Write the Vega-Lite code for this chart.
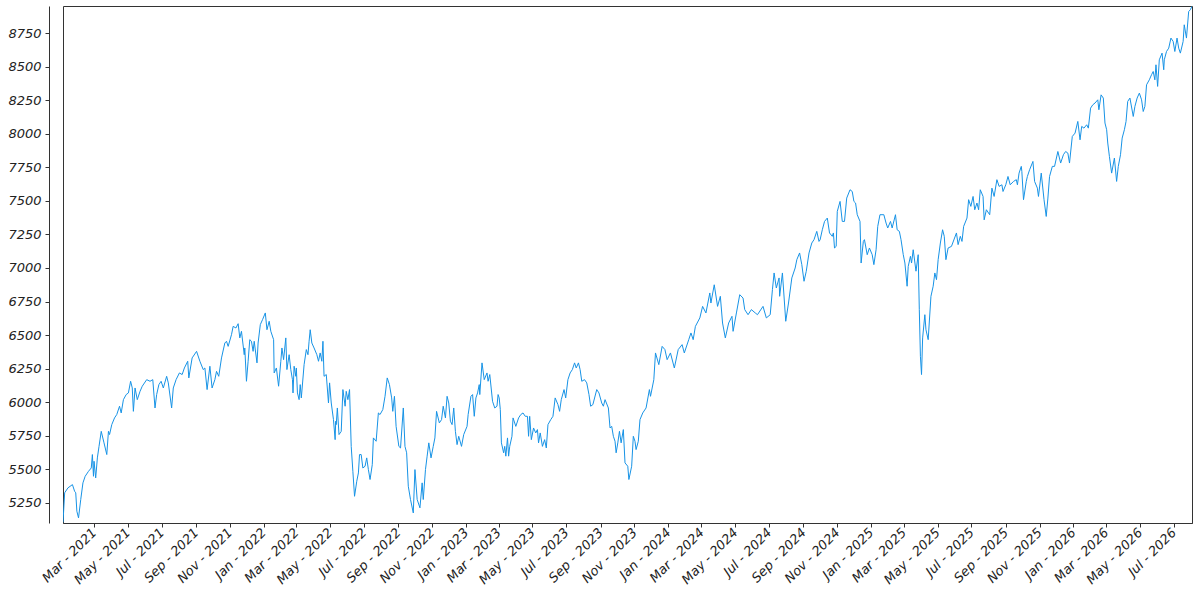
{
  "$schema": "https://vega.github.io/schema/vega-lite/v6.json",
  "autosize": "none",
  "width": 1129,
  "height": 517,
  "padding": {"left": 63, "top": 6, "right": 8, "bottom": 77},
  "background": "white",
  "view": {"stroke": "#333333", "strokeWidth": 1},
  "config": {
    "axis": {
      "labelFont": "DejaVu Sans",
      "labelFontStyle": "oblique",
      "labelFontSize": 13,
      "labelColor": "#222222",
      "domainColor": "#333333",
      "tickColor": "#333333",
      "tickSize": 4,
      "grid": false,
      "title": null
    }
  },
  "data": {
    "values": [
      {"date": "2021-01-04", "value": 5105}, {"date": "2021-01-07", "value": 5325}, {"date": "2021-01-13", "value": 5362},
      {"date": "2021-01-21", "value": 5386}, {"date": "2021-01-25", "value": 5336}, {"date": "2021-01-27", "value": 5325},
      {"date": "2021-01-29", "value": 5188}, {"date": "2021-02-01", "value": 5138}, {"date": "2021-02-05", "value": 5275},
      {"date": "2021-02-09", "value": 5399}, {"date": "2021-02-13", "value": 5448}, {"date": "2021-02-19", "value": 5485},
      {"date": "2021-02-24", "value": 5510}, {"date": "2021-02-26", "value": 5610}, {"date": "2021-02-28", "value": 5448},
      {"date": "2021-03-01", "value": 5560}, {"date": "2021-03-04", "value": 5436}, {"date": "2021-03-07", "value": 5585},
      {"date": "2021-03-10", "value": 5671}, {"date": "2021-03-14", "value": 5783}, {"date": "2021-03-19", "value": 5697},
      {"date": "2021-03-24", "value": 5610}, {"date": "2021-03-27", "value": 5783}, {"date": "2021-03-29", "value": 5759},
      {"date": "2021-04-02", "value": 5833}, {"date": "2021-04-07", "value": 5883}, {"date": "2021-04-11", "value": 5908},
      {"date": "2021-04-16", "value": 5970}, {"date": "2021-04-19", "value": 5920}, {"date": "2021-04-23", "value": 6019},
      {"date": "2021-04-28", "value": 6057}, {"date": "2021-05-02", "value": 6069}, {"date": "2021-05-06", "value": 6156},
      {"date": "2021-05-09", "value": 6106}, {"date": "2021-05-11", "value": 5932}, {"date": "2021-05-14", "value": 6106},
      {"date": "2021-05-18", "value": 6019}, {"date": "2021-05-23", "value": 6081}, {"date": "2021-05-27", "value": 6119},
      {"date": "2021-06-04", "value": 6168}, {"date": "2021-06-10", "value": 6156}, {"date": "2021-06-15", "value": 6168},
      {"date": "2021-06-19", "value": 5957}, {"date": "2021-06-22", "value": 6057}, {"date": "2021-06-26", "value": 6131},
      {"date": "2021-06-30", "value": 6156}, {"date": "2021-07-04", "value": 6106}, {"date": "2021-07-10", "value": 6193},
      {"date": "2021-07-13", "value": 6144}, {"date": "2021-07-19", "value": 5957}, {"date": "2021-07-22", "value": 6106},
      {"date": "2021-07-27", "value": 6168}, {"date": "2021-08-02", "value": 6218}, {"date": "2021-08-07", "value": 6206},
      {"date": "2021-08-11", "value": 6255}, {"date": "2021-08-17", "value": 6305}, {"date": "2021-08-19", "value": 6181},
      {"date": "2021-08-25", "value": 6330}, {"date": "2021-09-02", "value": 6379}, {"date": "2021-09-08", "value": 6305},
      {"date": "2021-09-14", "value": 6243}, {"date": "2021-09-17", "value": 6255}, {"date": "2021-09-21", "value": 6094},
      {"date": "2021-09-26", "value": 6268}, {"date": "2021-09-30", "value": 6106}, {"date": "2021-10-05", "value": 6168},
      {"date": "2021-10-08", "value": 6230}, {"date": "2021-10-12", "value": 6193}, {"date": "2021-10-17", "value": 6330},
      {"date": "2021-10-23", "value": 6441}, {"date": "2021-10-26", "value": 6454}, {"date": "2021-10-29", "value": 6416},
      {"date": "2021-11-04", "value": 6503}, {"date": "2021-11-07", "value": 6565}, {"date": "2021-11-12", "value": 6553},
      {"date": "2021-11-16", "value": 6585}, {"date": "2021-11-19", "value": 6479}, {"date": "2021-11-22", "value": 6528},
      {"date": "2021-11-27", "value": 6354}, {"date": "2021-11-28", "value": 6404}, {"date": "2021-12-01", "value": 6156},
      {"date": "2021-12-04", "value": 6305}, {"date": "2021-12-07", "value": 6466}, {"date": "2021-12-10", "value": 6454},
      {"date": "2021-12-13", "value": 6379}, {"date": "2021-12-15", "value": 6454}, {"date": "2021-12-20", "value": 6293},
      {"date": "2021-12-22", "value": 6441}, {"date": "2021-12-26", "value": 6578}, {"date": "2021-12-30", "value": 6615},
      {"date": "2022-01-04", "value": 6665}, {"date": "2022-01-07", "value": 6540}, {"date": "2022-01-11", "value": 6603},
      {"date": "2022-01-14", "value": 6528}, {"date": "2022-01-19", "value": 6466}, {"date": "2022-01-20", "value": 6218},
      {"date": "2022-01-24", "value": 6255}, {"date": "2022-01-28", "value": 6119}, {"date": "2022-02-01", "value": 6305},
      {"date": "2022-02-03", "value": 6404}, {"date": "2022-02-06", "value": 6317}, {"date": "2022-02-10", "value": 6479},
      {"date": "2022-02-12", "value": 6243}, {"date": "2022-02-16", "value": 6354}, {"date": "2022-02-19", "value": 6243},
      {"date": "2022-02-22", "value": 6168}, {"date": "2022-02-23", "value": 6069}, {"date": "2022-02-25", "value": 6268},
      {"date": "2022-02-28", "value": 6193}, {"date": "2022-03-01", "value": 6255}, {"date": "2022-03-03", "value": 6069},
      {"date": "2022-03-06", "value": 6019}, {"date": "2022-03-08", "value": 6131}, {"date": "2022-03-10", "value": 6032},
      {"date": "2022-03-15", "value": 6280}, {"date": "2022-03-19", "value": 6392}, {"date": "2022-03-22", "value": 6354},
      {"date": "2022-03-24", "value": 6454}, {"date": "2022-03-26", "value": 6540}, {"date": "2022-03-29", "value": 6441},
      {"date": "2022-04-02", "value": 6404}, {"date": "2022-04-07", "value": 6354}, {"date": "2022-04-10", "value": 6305},
      {"date": "2022-04-13", "value": 6367}, {"date": "2022-04-16", "value": 6305}, {"date": "2022-04-18", "value": 6454},
      {"date": "2022-04-20", "value": 6193}, {"date": "2022-04-24", "value": 6206}, {"date": "2022-04-28", "value": 5994},
      {"date": "2022-04-30", "value": 6144}, {"date": "2022-05-03", "value": 5994}, {"date": "2022-05-07", "value": 5870},
      {"date": "2022-05-10", "value": 5721}, {"date": "2022-05-11", "value": 5858}, {"date": "2022-05-12", "value": 5833},
      {"date": "2022-05-14", "value": 5957}, {"date": "2022-05-17", "value": 5759}, {"date": "2022-05-21", "value": 5783},
      {"date": "2022-05-24", "value": 6094}, {"date": "2022-05-28", "value": 5970}, {"date": "2022-05-30", "value": 6081},
      {"date": "2022-06-02", "value": 6019}, {"date": "2022-06-05", "value": 6094}, {"date": "2022-06-08", "value": 5671},
      {"date": "2022-06-11", "value": 5485}, {"date": "2022-06-14", "value": 5299}, {"date": "2022-06-18", "value": 5411},
      {"date": "2022-06-21", "value": 5473}, {"date": "2022-06-23", "value": 5610}, {"date": "2022-06-26", "value": 5610},
      {"date": "2022-06-29", "value": 5510}, {"date": "2022-07-03", "value": 5523}, {"date": "2022-07-06", "value": 5585},
      {"date": "2022-07-09", "value": 5498}, {"date": "2022-07-12", "value": 5424}, {"date": "2022-07-16", "value": 5535},
      {"date": "2022-07-18", "value": 5734}, {"date": "2022-07-23", "value": 5709}, {"date": "2022-07-27", "value": 5920},
      {"date": "2022-07-30", "value": 5908}, {"date": "2022-08-04", "value": 5945}, {"date": "2022-08-08", "value": 6044},
      {"date": "2022-08-12", "value": 6181}, {"date": "2022-08-16", "value": 6131}, {"date": "2022-08-20", "value": 6032},
      {"date": "2022-08-22", "value": 5932}, {"date": "2022-08-25", "value": 6044}, {"date": "2022-08-28", "value": 5820},
      {"date": "2022-09-02", "value": 5671}, {"date": "2022-09-05", "value": 5659}, {"date": "2022-09-10", "value": 5957},
      {"date": "2022-09-13", "value": 5671}, {"date": "2022-09-16", "value": 5623}, {"date": "2022-09-19", "value": 5374},
      {"date": "2022-09-23", "value": 5275}, {"date": "2022-09-28", "value": 5175}, {"date": "2022-10-01", "value": 5498},
      {"date": "2022-10-05", "value": 5275}, {"date": "2022-10-10", "value": 5213}, {"date": "2022-10-14", "value": 5399},
      {"date": "2022-10-16", "value": 5275}, {"date": "2022-10-20", "value": 5498}, {"date": "2022-10-23", "value": 5598},
      {"date": "2022-10-26", "value": 5697}, {"date": "2022-10-30", "value": 5585}, {"date": "2022-11-03", "value": 5671},
      {"date": "2022-11-06", "value": 5734}, {"date": "2022-11-09", "value": 5932}, {"date": "2022-11-14", "value": 5846},
      {"date": "2022-11-18", "value": 5870}, {"date": "2022-11-21", "value": 5970}, {"date": "2022-11-25", "value": 5883},
      {"date": "2022-11-28", "value": 6044}, {"date": "2022-12-01", "value": 5994}, {"date": "2022-12-04", "value": 5858},
      {"date": "2022-12-07", "value": 5833}, {"date": "2022-12-10", "value": 5957}, {"date": "2022-12-13", "value": 5783},
      {"date": "2022-12-16", "value": 5684}, {"date": "2022-12-19", "value": 5746}, {"date": "2022-12-24", "value": 5671},
      {"date": "2022-12-28", "value": 5759}, {"date": "2023-01-03", "value": 5820}, {"date": "2023-01-05", "value": 5908},
      {"date": "2023-01-10", "value": 6044}, {"date": "2023-01-13", "value": 6057}, {"date": "2023-01-16", "value": 5895},
      {"date": "2023-01-19", "value": 6032}, {"date": "2023-01-22", "value": 6069}, {"date": "2023-01-25", "value": 6131},
      {"date": "2023-01-26", "value": 6057}, {"date": "2023-01-30", "value": 6293}, {"date": "2023-02-03", "value": 6168},
      {"date": "2023-02-08", "value": 6218}, {"date": "2023-02-10", "value": 6156}, {"date": "2023-02-13", "value": 6206},
      {"date": "2023-02-18", "value": 6007}, {"date": "2023-02-22", "value": 5957}, {"date": "2023-02-26", "value": 5970},
      {"date": "2023-02-28", "value": 6057}, {"date": "2023-03-02", "value": 6032}, {"date": "2023-03-04", "value": 5945},
      {"date": "2023-03-06", "value": 5697}, {"date": "2023-03-10", "value": 5623}, {"date": "2023-03-12", "value": 5671},
      {"date": "2023-03-14", "value": 5598}, {"date": "2023-03-17", "value": 5734}, {"date": "2023-03-19", "value": 5598},
      {"date": "2023-03-21", "value": 5671}, {"date": "2023-03-25", "value": 5746}, {"date": "2023-03-27", "value": 5883},
      {"date": "2023-04-01", "value": 5820}, {"date": "2023-04-06", "value": 5883}, {"date": "2023-04-10", "value": 5908},
      {"date": "2023-04-14", "value": 5920}, {"date": "2023-04-18", "value": 5895}, {"date": "2023-04-22", "value": 5895},
      {"date": "2023-04-24", "value": 5746}, {"date": "2023-04-26", "value": 5895}, {"date": "2023-04-29", "value": 5721},
      {"date": "2023-05-03", "value": 5808}, {"date": "2023-05-07", "value": 5771}, {"date": "2023-05-10", "value": 5796},
      {"date": "2023-05-12", "value": 5697}, {"date": "2023-05-15", "value": 5771}, {"date": "2023-05-19", "value": 5671},
      {"date": "2023-05-23", "value": 5721}, {"date": "2023-05-26", "value": 5659}, {"date": "2023-05-29", "value": 5833},
      {"date": "2023-06-03", "value": 5870}, {"date": "2023-06-07", "value": 5895}, {"date": "2023-06-11", "value": 6032},
      {"date": "2023-06-16", "value": 5982}, {"date": "2023-06-19", "value": 5932}, {"date": "2023-06-22", "value": 6019},
      {"date": "2023-06-27", "value": 6094}, {"date": "2023-06-30", "value": 6032}, {"date": "2023-07-04", "value": 6168},
      {"date": "2023-07-08", "value": 6218}, {"date": "2023-07-12", "value": 6243}, {"date": "2023-07-16", "value": 6293},
      {"date": "2023-07-19", "value": 6255}, {"date": "2023-07-23", "value": 6293}, {"date": "2023-07-26", "value": 6243},
      {"date": "2023-07-29", "value": 6156}, {"date": "2023-08-03", "value": 6168}, {"date": "2023-08-07", "value": 6144},
      {"date": "2023-08-11", "value": 6057}, {"date": "2023-08-14", "value": 5970}, {"date": "2023-08-18", "value": 5982},
      {"date": "2023-08-25", "value": 6094}, {"date": "2023-08-29", "value": 6069}, {"date": "2023-09-03", "value": 5994},
      {"date": "2023-09-06", "value": 5970}, {"date": "2023-09-09", "value": 6019}, {"date": "2023-09-15", "value": 5957},
      {"date": "2023-09-18", "value": 5808}, {"date": "2023-09-21", "value": 5820}, {"date": "2023-09-24", "value": 5746},
      {"date": "2023-09-27", "value": 5709}, {"date": "2023-09-29", "value": 5623}, {"date": "2023-10-02", "value": 5697},
      {"date": "2023-10-05", "value": 5783}, {"date": "2023-10-08", "value": 5697}, {"date": "2023-10-12", "value": 5796},
      {"date": "2023-10-15", "value": 5548}, {"date": "2023-10-20", "value": 5523}, {"date": "2023-10-22", "value": 5424},
      {"date": "2023-10-27", "value": 5523}, {"date": "2023-10-30", "value": 5746}, {"date": "2023-11-02", "value": 5709},
      {"date": "2023-11-04", "value": 5647}, {"date": "2023-11-08", "value": 5709}, {"date": "2023-11-11", "value": 5870},
      {"date": "2023-11-16", "value": 5920}, {"date": "2023-11-22", "value": 5957}, {"date": "2023-11-28", "value": 6094},
      {"date": "2023-11-30", "value": 6044}, {"date": "2023-12-06", "value": 6168}, {"date": "2023-12-09", "value": 6367},
      {"date": "2023-12-15", "value": 6280}, {"date": "2023-12-21", "value": 6416}, {"date": "2023-12-26", "value": 6392},
      {"date": "2023-12-30", "value": 6317}, {"date": "2024-01-05", "value": 6367}, {"date": "2024-01-12", "value": 6255},
      {"date": "2024-01-19", "value": 6392}, {"date": "2024-01-26", "value": 6429}, {"date": "2024-01-30", "value": 6367},
      {"date": "2024-02-07", "value": 6466}, {"date": "2024-02-11", "value": 6516}, {"date": "2024-02-15", "value": 6466},
      {"date": "2024-02-19", "value": 6565}, {"date": "2024-02-27", "value": 6628}, {"date": "2024-03-03", "value": 6714},
      {"date": "2024-03-09", "value": 6665}, {"date": "2024-03-16", "value": 6814}, {"date": "2024-03-18", "value": 6739},
      {"date": "2024-03-24", "value": 6875}, {"date": "2024-03-30", "value": 6714}, {"date": "2024-04-04", "value": 6789},
      {"date": "2024-04-08", "value": 6590}, {"date": "2024-04-13", "value": 6479}, {"date": "2024-04-19", "value": 6590},
      {"date": "2024-04-25", "value": 6640}, {"date": "2024-04-27", "value": 6528}, {"date": "2024-05-03", "value": 6665},
      {"date": "2024-05-09", "value": 6801}, {"date": "2024-05-15", "value": 6776}, {"date": "2024-05-18", "value": 6690},
      {"date": "2024-05-24", "value": 6652}, {"date": "2024-05-30", "value": 6690}, {"date": "2024-06-06", "value": 6665},
      {"date": "2024-06-10", "value": 6652}, {"date": "2024-06-20", "value": 6714}, {"date": "2024-06-26", "value": 6628},
      {"date": "2024-07-03", "value": 6652}, {"date": "2024-07-07", "value": 6839}, {"date": "2024-07-10", "value": 6963},
      {"date": "2024-07-14", "value": 6851}, {"date": "2024-07-19", "value": 6926}, {"date": "2024-07-20", "value": 6789},
      {"date": "2024-07-25", "value": 6963}, {"date": "2024-07-31", "value": 6603}, {"date": "2024-08-05", "value": 6739},
      {"date": "2024-08-11", "value": 6926}, {"date": "2024-08-17", "value": 7000}, {"date": "2024-08-20", "value": 7062},
      {"date": "2024-08-25", "value": 7112}, {"date": "2024-08-29", "value": 7025}, {"date": "2024-09-02", "value": 6901},
      {"date": "2024-09-06", "value": 6975}, {"date": "2024-09-11", "value": 7112}, {"date": "2024-09-16", "value": 7186},
      {"date": "2024-09-20", "value": 7211}, {"date": "2024-09-25", "value": 7273}, {"date": "2024-09-29", "value": 7198},
      {"date": "2024-10-01", "value": 7210}, {"date": "2024-10-05", "value": 7285}, {"date": "2024-10-09", "value": 7347},
      {"date": "2024-10-14", "value": 7372}, {"date": "2024-10-18", "value": 7261}, {"date": "2024-10-23", "value": 7236},
      {"date": "2024-10-25", "value": 7261}, {"date": "2024-10-27", "value": 7149}, {"date": "2024-10-30", "value": 7161},
      {"date": "2024-11-01", "value": 7422}, {"date": "2024-11-06", "value": 7496}, {"date": "2024-11-10", "value": 7347},
      {"date": "2024-11-14", "value": 7347}, {"date": "2024-11-18", "value": 7521}, {"date": "2024-11-24", "value": 7583},
      {"date": "2024-11-28", "value": 7570}, {"date": "2024-12-01", "value": 7496}, {"date": "2024-12-04", "value": 7484},
      {"date": "2024-12-07", "value": 7397}, {"date": "2024-12-12", "value": 7347}, {"date": "2024-12-14", "value": 7037},
      {"date": "2024-12-18", "value": 7198}, {"date": "2024-12-20", "value": 7211}, {"date": "2024-12-25", "value": 7099},
      {"date": "2024-12-29", "value": 7149}, {"date": "2025-01-03", "value": 7099}, {"date": "2025-01-06", "value": 7025},
      {"date": "2025-01-10", "value": 7136}, {"date": "2025-01-13", "value": 7310}, {"date": "2025-01-17", "value": 7397},
      {"date": "2025-01-24", "value": 7397}, {"date": "2025-01-28", "value": 7335}, {"date": "2025-01-31", "value": 7298},
      {"date": "2025-02-05", "value": 7347}, {"date": "2025-02-08", "value": 7298}, {"date": "2025-02-14", "value": 7397},
      {"date": "2025-02-17", "value": 7285}, {"date": "2025-02-21", "value": 7273}, {"date": "2025-02-24", "value": 7211},
      {"date": "2025-02-28", "value": 7100}, {"date": "2025-03-03", "value": 7037}, {"date": "2025-03-07", "value": 6864},
      {"date": "2025-03-09", "value": 7012}, {"date": "2025-03-13", "value": 7087}, {"date": "2025-03-15", "value": 7037},
      {"date": "2025-03-18", "value": 7136}, {"date": "2025-03-23", "value": 6976}, {"date": "2025-03-27", "value": 7099},
      {"date": "2025-03-29", "value": 6689}, {"date": "2025-03-31", "value": 6342}, {"date": "2025-04-02", "value": 6206},
      {"date": "2025-04-04", "value": 6479}, {"date": "2025-04-08", "value": 6652}, {"date": "2025-04-10", "value": 6540},
      {"date": "2025-04-14", "value": 6466}, {"date": "2025-04-19", "value": 6789}, {"date": "2025-04-23", "value": 6864},
      {"date": "2025-04-26", "value": 6963}, {"date": "2025-04-29", "value": 6913}, {"date": "2025-05-02", "value": 7062},
      {"date": "2025-05-06", "value": 7186}, {"date": "2025-05-10", "value": 7285}, {"date": "2025-05-13", "value": 7236},
      {"date": "2025-05-16", "value": 7062}, {"date": "2025-05-20", "value": 7149}, {"date": "2025-05-26", "value": 7161},
      {"date": "2025-06-04", "value": 7261}, {"date": "2025-06-07", "value": 7174}, {"date": "2025-06-11", "value": 7236},
      {"date": "2025-06-14", "value": 7198}, {"date": "2025-06-17", "value": 7310}, {"date": "2025-06-23", "value": 7372},
      {"date": "2025-06-26", "value": 7509}, {"date": "2025-06-30", "value": 7459}, {"date": "2025-07-04", "value": 7533},
      {"date": "2025-07-07", "value": 7434}, {"date": "2025-07-11", "value": 7484}, {"date": "2025-07-14", "value": 7434},
      {"date": "2025-07-17", "value": 7583}, {"date": "2025-07-22", "value": 7533}, {"date": "2025-07-24", "value": 7359},
      {"date": "2025-07-28", "value": 7434}, {"date": "2025-08-03", "value": 7397}, {"date": "2025-08-07", "value": 7595},
      {"date": "2025-08-11", "value": 7533}, {"date": "2025-08-16", "value": 7658}, {"date": "2025-08-20", "value": 7608},
      {"date": "2025-08-25", "value": 7620}, {"date": "2025-08-27", "value": 7570}, {"date": "2025-09-01", "value": 7620},
      {"date": "2025-09-05", "value": 7682}, {"date": "2025-09-09", "value": 7620}, {"date": "2025-09-15", "value": 7645},
      {"date": "2025-09-20", "value": 7658}, {"date": "2025-09-22", "value": 7620}, {"date": "2025-09-25", "value": 7707},
      {"date": "2025-09-29", "value": 7757}, {"date": "2025-09-30", "value": 7719}, {"date": "2025-10-03", "value": 7509},
      {"date": "2025-10-08", "value": 7645}, {"date": "2025-10-10", "value": 7682}, {"date": "2025-10-14", "value": 7732},
      {"date": "2025-10-20", "value": 7794}, {"date": "2025-10-23", "value": 7645}, {"date": "2025-10-28", "value": 7595},
      {"date": "2025-10-30", "value": 7533}, {"date": "2025-11-04", "value": 7707}, {"date": "2025-11-09", "value": 7509},
      {"date": "2025-11-13", "value": 7384}, {"date": "2025-11-16", "value": 7521}, {"date": "2025-11-19", "value": 7682},
      {"date": "2025-11-24", "value": 7757}, {"date": "2025-11-28", "value": 7757}, {"date": "2025-12-04", "value": 7868},
      {"date": "2025-12-09", "value": 7782}, {"date": "2025-12-14", "value": 7844}, {"date": "2025-12-18", "value": 7868},
      {"date": "2025-12-22", "value": 7856}, {"date": "2025-12-25", "value": 7782}, {"date": "2025-12-30", "value": 7980},
      {"date": "2026-01-04", "value": 8005}, {"date": "2026-01-09", "value": 8092}, {"date": "2026-01-13", "value": 7955},
      {"date": "2026-01-16", "value": 8055}, {"date": "2026-01-20", "value": 8042}, {"date": "2026-01-25", "value": 8067},
      {"date": "2026-01-28", "value": 8042}, {"date": "2026-02-01", "value": 8191}, {"date": "2026-02-05", "value": 8216},
      {"date": "2026-02-09", "value": 8229}, {"date": "2026-02-14", "value": 8253}, {"date": "2026-02-16", "value": 8179},
      {"date": "2026-02-20", "value": 8290}, {"date": "2026-02-24", "value": 8266}, {"date": "2026-02-27", "value": 8080},
      {"date": "2026-03-02", "value": 8030}, {"date": "2026-03-04", "value": 7931}, {"date": "2026-03-07", "value": 7831},
      {"date": "2026-03-11", "value": 7707}, {"date": "2026-03-16", "value": 7819}, {"date": "2026-03-20", "value": 7645},
      {"date": "2026-03-23", "value": 7757}, {"date": "2026-03-27", "value": 7844}, {"date": "2026-03-30", "value": 7968},
      {"date": "2026-04-03", "value": 8030}, {"date": "2026-04-06", "value": 8092}, {"date": "2026-04-09", "value": 8241},
      {"date": "2026-04-13", "value": 8266}, {"date": "2026-04-19", "value": 8129}, {"date": "2026-04-22", "value": 8204},
      {"date": "2026-04-26", "value": 8266}, {"date": "2026-04-30", "value": 8303}, {"date": "2026-05-04", "value": 8253},
      {"date": "2026-05-07", "value": 8166}, {"date": "2026-05-10", "value": 8204}, {"date": "2026-05-13", "value": 8365},
      {"date": "2026-05-18", "value": 8402}, {"date": "2026-05-22", "value": 8440}, {"date": "2026-05-25", "value": 8464},
      {"date": "2026-05-28", "value": 8402}, {"date": "2026-05-30", "value": 8514}, {"date": "2026-06-02", "value": 8353},
      {"date": "2026-06-05", "value": 8551}, {"date": "2026-06-10", "value": 8601}, {"date": "2026-06-13", "value": 8477},
      {"date": "2026-06-14", "value": 8551}, {"date": "2026-06-18", "value": 8613}, {"date": "2026-06-22", "value": 8638},
      {"date": "2026-06-26", "value": 8713}, {"date": "2026-06-30", "value": 8688}, {"date": "2026-07-03", "value": 8613},
      {"date": "2026-07-07", "value": 8713}, {"date": "2026-07-10", "value": 8638}, {"date": "2026-07-13", "value": 8601},
      {"date": "2026-07-18", "value": 8688}, {"date": "2026-07-20", "value": 8812}, {"date": "2026-07-24", "value": 8713},
      {"date": "2026-07-28", "value": 8911}, {"date": "2026-07-31", "value": 8924}, {"date": "2026-08-03", "value": 8950}
    ]
  },
  "mark": {"type": "line", "color": "#1793e6", "strokeWidth": 1, "clip": true},
  "encoding": {
    "x": {
      "field": "date",
      "type": "temporal",
      "scale": {"type": "utc"},
      "axis": {
        "format": "%b - %Y",
        "tickCount": {"interval": "month", "step": 2},
        "labelAngle": -45,
        "labelAlign": "right",
        "labelBaseline": "middle",
        "labelPadding": 3,
        "labelOverlap": false
      }
    },
    "y": {
      "field": "value",
      "type": "quantitative",
      "scale": {"domain": [5100, 8952], "nice": false, "zero": false},
      "axis": {
        "offset": 14,
        "format": "d",
        "values": [5250, 5500, 5750, 6000, 6250, 6500, 6750, 7000, 7250, 7500, 7750, 8000, 8250, 8500, 8750],
        "labelPadding": 4
      }
    }
  }
}
